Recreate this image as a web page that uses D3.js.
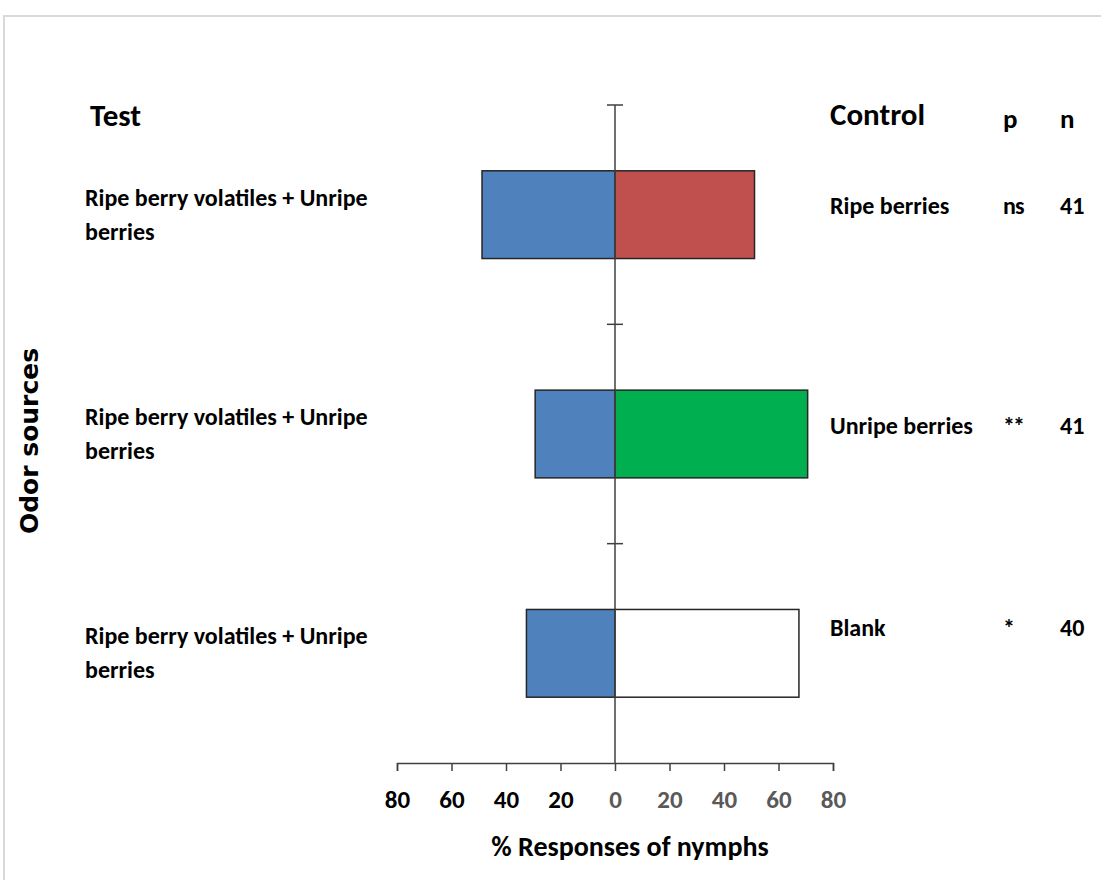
<!DOCTYPE html>
<html>
<head>
<meta charset="utf-8">
<script src="https://cdn.jsdelivr.net/npm/d3@7"></script>
<style>
  html, body { margin: 0; padding: 0; background: #fff; }
  svg { display: block; }
  text { font-family: Carlito, Calibri, Lato, "Liberation Sans", sans-serif; font-weight: 700; }
</style>
</head>
<body>
<svg id="chart" width="1101" height="880"></svg>
<script>
// Two-choice olfactometer results: test odour (left) vs control odour (right)
const testLabels = ["Ripe berry volatiles + Unripe berries",
                    "Ripe berry volatiles + Unripe berries",
                    "Ripe berry volatiles + Unripe berries"];
const controlLabels = ["Ripe berries", "Unripe berries", "Blank"];
const testPct = [48.8, 29.3, 32.5];
const controlPct = [51.2, 70.7, 67.5];
const pLabels = ["ns", "**", "*"];
const nValues = [41, 41, 40];
const controlColors = ["#C0504D", "#00B050", "#FFFFFF"];
const testColor = "#4F81BD";
const tickValues = [-80, -60, -40, -20, 0, 20, 40, 60, 80];

const svg = d3.select("#chart");

// light frame around the plot area
svg.append("path")
  .attr("d", "M4,880 V16 H1101")
  .attr("fill", "none")
  .attr("stroke", "#d9d9d9")
  .attr("stroke-width", 2);

const x = d3.scaleLinear().domain([-80, 80]).range([397, 833]);
const rows = d3.range(testPct.length);
const y = d3.scaleBand().domain(rows).range([105, 763])
  .paddingInner(0.6).paddingOuter(0.3);

const axisColor = "#404040";

// bars
const g = svg.append("g");
g.selectAll("rect.test").data(rows).join("rect")
  .attr("class", "test")
  .attr("x", i => x(-testPct[i]))
  .attr("y", i => y(i))
  .attr("width", i => x(0) - x(-testPct[i]))
  .attr("height", y.bandwidth())
  .attr("fill", testColor)
  .attr("stroke", "#262626").attr("stroke-width", 1.5);
g.selectAll("rect.ctrl").data(rows).join("rect")
  .attr("class", "ctrl")
  .attr("x", x(0))
  .attr("y", i => y(i))
  .attr("width", i => x(controlPct[i]) - x(0))
  .attr("height", y.bandwidth())
  .attr("fill", i => controlColors[i])
  .attr("stroke", "#262626").attr("stroke-width", 1.5);

// vertical zero line with category separators
const yTop = y.range()[0], yBot = y.range()[1];
svg.append("line")
  .attr("x1", x(0)).attr("x2", x(0))
  .attr("y1", yTop).attr("y2", yBot)
  .attr("stroke", axisColor).attr("stroke-width", 1.5);
svg.selectAll("line.sep").data(rows).join("line")
  .attr("class", "sep")
  .attr("x1", x(0) - 8).attr("x2", x(0) + 8)
  .attr("y1", i => yTop + i * y.step())
  .attr("y2", i => yTop + i * y.step())
  .attr("stroke", axisColor).attr("stroke-width", 1.5);

// bottom axis
const xAxis = d3.axisBottom(x)
  .tickValues(tickValues)
  .tickSize(8)
  .tickPadding(19)
  .tickFormat(d => Math.abs(d));
const ax = svg.append("g")
  .attr("transform", `translate(0,${yBot})`)
  .call(xAxis);
ax.select(".domain").attr("stroke", axisColor).attr("stroke-width", 1.5);
ax.selectAll(".tick line").attr("stroke", axisColor).attr("stroke-width", 1.5);
ax.selectAll(".tick text")
  .attr("font-size", 25)
  .attr("font-family", "Carlito, Calibri, Lato, sans-serif")
  .attr("font-weight", 700)
  .attr("fill", d => d < 0 ? "#000" : "#595959");

svg.append("text")
  .attr("x", 630).attr("y", 856)
  .attr("text-anchor", "middle")
  .attr("font-size", 28)
  .text("% Responses of nymphs");

// y axis title
svg.append("text")
  .attr("transform", "translate(38,441) rotate(-90)")
  .attr("text-anchor", "middle")
  .attr("font-size", 25)
  .style("font-family", "'DejaVu Sans', 'Open Sans', sans-serif")
  .text("Odor sources");

// column headers
svg.append("text").attr("x", 90).attr("y", 126).attr("font-size", 31).text("Test");
svg.append("text").attr("x", 830).attr("y", 125).attr("font-size", 31).text("Control");
svg.append("text").attr("x", 1003).attr("y", 128).attr("font-size", 27).text("p");
svg.append("text").attr("x", 1060).attr("y", 128).attr("font-size", 27).text("n");

// test odour labels (wrapped onto two lines)
const mid = i => y(i) + y.bandwidth() / 2;
rows.forEach(i => {
  const words = testLabels[i].split(" ");
  const t = svg.append("text").attr("x", 85).attr("font-size", 24);
  t.append("tspan").attr("x", 85).attr("y", mid(i) - 9).text(words.slice(0, -1).join(" "));
  t.append("tspan").attr("x", 85).attr("y", mid(i) + 25).text(words[words.length - 1]);
});

// control labels, significance and sample sizes
const rightShift = [-1, 0, -17];
svg.selectAll("text.ctrl").data(rows).join("text")
  .attr("class", "ctrl")
  .attr("x", 830).attr("y", i => mid(i) + rightShift[i])
  .attr("font-size", 24)
  .text(i => controlLabels[i]);
svg.selectAll("text.p").data(rows).join("text")
  .attr("class", "p")
  .attr("x", 1003).attr("y", i => mid(i) + rightShift[i])
  .attr("font-size", 24)
  .attr("letter-spacing", i => pLabels[i].startsWith("*") ? -2 : -1)
  .text(i => pLabels[i]);
svg.selectAll("text.n").data(rows).join("text")
  .attr("class", "n")
  .attr("x", 1060).attr("y", i => mid(i) + rightShift[i])
  .attr("font-size", 24)
  .text(i => nValues[i]);
</script>
</body>
</html>
